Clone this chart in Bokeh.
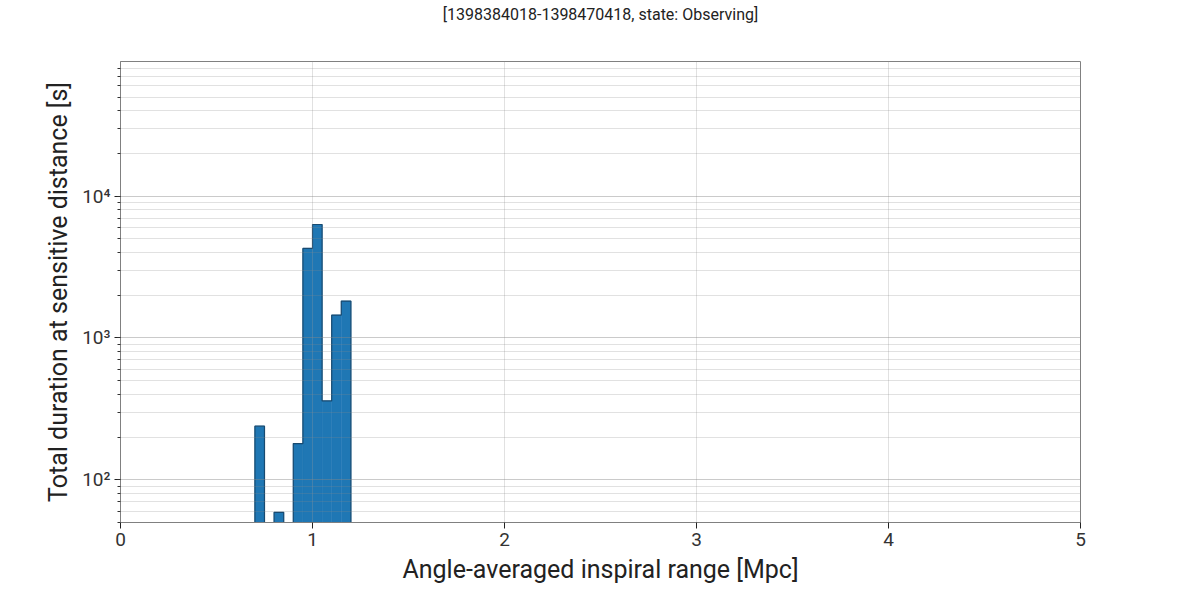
from bokeh.plotting import figure
from bokeh.embed import file_html
from bokeh.resources import INLINE
from bokeh.models import FixedTicker, LogTicker, Title

title_text = "[1398384018-1398470418, state: Observing]"
x_label = "Angle-averaged inspiral range [Mpc]"
y_label = "Total duration at sensitive distance [s]"

bin_left = [0.70, 0.75, 0.80, 0.85, 0.90, 0.95, 1.00, 1.05, 1.10, 1.15]
bin_width = 0.05
durations = [239, 0, 59, 0, 180, 4280, 6310, 360, 1450, 1820]

x_ticks = [0, 1, 2, 3, 4, 5]
y_tick_overrides = {100: "10²", 1000: "10³", 10000: "10⁴"}

FONT = "Roboto"
floor = 1.0

p = figure(width=1200, height=600, x_range=(0, 5), y_range=(50, 89000),
           y_axis_type="log", output_backend="svg", toolbar_location=None,
           min_border_left=120, min_border_right=120, min_border_top=60,
           min_border_bottom=78)

# spacer between frame and title (keeps the title near the top edge)
p.add_layout(Title(text=" ", text_font=FONT, text_font_size="14px",
                   standoff=18), "above")

p.title.text = title_text
p.title.align = "center"
p.title.text_font = FONT
p.title.text_font_size = "16px"
p.title.text_font_style = "normal"
p.title.text_color = "#222222"
p.title.standoff = 4

# bars (non-zero bins only)
L, R, T = [], [], []
for l, d in zip(bin_left, durations):
    if d > 0:
        L.append(l); R.append(l + bin_width); T.append(d)
p.quad(left=L, right=R, top=T, bottom=floor, fill_color="#1f77b4",
       line_color="#1f77b4", line_width=0.5)

# stepfilled outline
xs, ys = [], []
cur_x, cur_y = None, None
for l, d in zip(bin_left, durations):
    r = l + bin_width
    if d > 0:
        if cur_x is None:
            cur_x, cur_y = [l], [floor]
        cur_x += [l, r]
        cur_y += [d, d]
    else:
        if cur_x is not None:
            cur_x.append(cur_x[-1]); cur_y.append(floor)
            xs.append(cur_x); ys.append(cur_y)
            cur_x, cur_y = None, None
if cur_x is not None:
    cur_x.append(cur_x[-1]); cur_y.append(floor)
    xs.append(cur_x); ys.append(cur_y)
p.multi_line(xs, ys, line_color="#184a70", line_width=1.2)

# axes
p.xaxis.ticker = FixedTicker(ticks=x_ticks, minor_ticks=[])
p.yaxis.ticker = LogTicker(num_minor_ticks=10)
p.yaxis.major_label_overrides = y_tick_overrides
p.xaxis.axis_label = x_label
p.yaxis.axis_label = y_label
for ax in (p.xaxis, p.yaxis):
    ax.axis_label_text_font = FONT
    ax.axis_label_text_font_size = "25px"
    ax.axis_label_text_font_style = "normal"
    ax.axis_label_text_color = "#222222"
    ax.major_label_text_font = FONT
    ax.major_label_text_font_size = "19px"
    ax.major_label_text_color = "#333333"
    ax.axis_line_color = "#808080"
    ax.major_tick_line_color = "#222222"
    ax.minor_tick_line_color = "#333333"
    ax.major_tick_in = 0
    ax.major_tick_out = 6
    ax.minor_tick_in = 0
    ax.minor_tick_out = 3
    ax.major_label_standoff = 4
    ax.axis_label_standoff = 6
p.xaxis.minor_tick_line_color = None

for g in (p.xgrid, p.ygrid):
    g.level = "overlay"
    g.grid_line_color = "#888888"
    g.grid_line_alpha = 0.25
p.ygrid.grid_line_alpha = 0.0
p.ygrid.minor_grid_line_color = "#888888"
p.ygrid.minor_grid_line_alpha = 0.25
p.outline_line_color = "#808080"
p.background_fill_color = "white"
p.border_fill_color = "white"

open("out.html", "w").write(file_html(p, INLINE))
